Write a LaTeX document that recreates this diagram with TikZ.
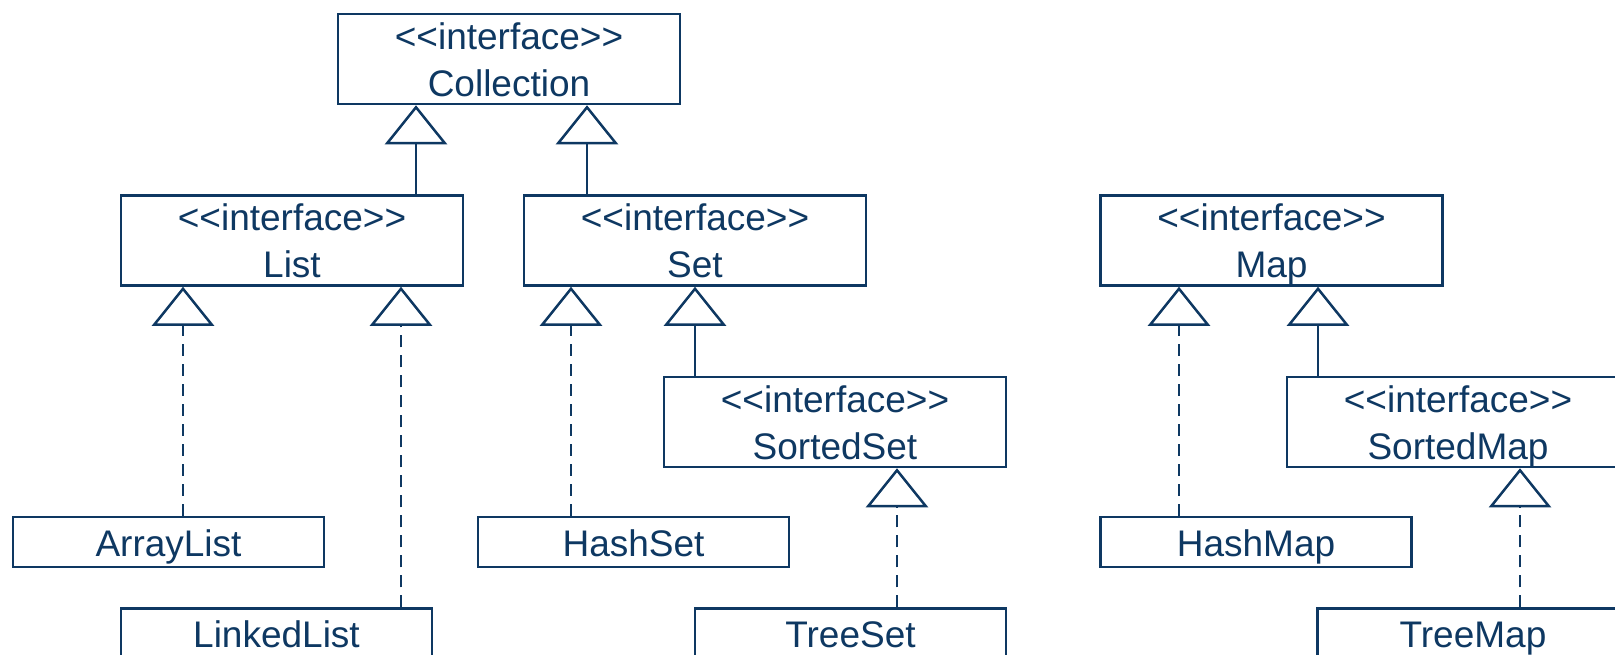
\documentclass[tikz,border=0pt]{standalone}
\usepackage{fontspec}
\setmainfont{Liberation Sans}[Ligatures=TeXOff]
\usetikzlibrary{positioning,arrows.meta}
\definecolor{umlblue}{RGB}{14,56,98}
\newcommand{\iface}[1]{\rule{0pt}{35pt}<<interface>>\\#1\rule[-8pt]{0pt}{8pt}}

\begin{document}
\begin{tikzpicture}[x=1pt, y=-1pt, line width=2.5pt, color=umlblue,
		font=\fontsize{37pt}{47pt}\selectfont,
		iface node/.style={rectangle,draw,fill=white,inner sep=0pt,align=center,minimum width=342pt,minimum height=90pt},
		class node/.style={rectangle,draw,fill=white,inner sep=0pt,minimum width=311pt,minimum height=50pt,text height=39pt,text depth=11pt},
		extends/.style={-{Triangle[open,length=39pt,width=62pt]}},
		realizes/.style={extends,dash pattern=on 12pt off 8pt}]
		
		\useasboundingbox (0,0) rectangle (1615,654);
		
		\node[iface node] (Collection) at (509,59) {\iface{Collection}};
		\node[iface node] (List) [below=89pt of Collection, xshift=-217pt] {\iface{List}};
		\node[iface node] (Set) [below=89pt of Collection, xshift=186pt] {\iface{Set}};
		\node[iface node] (Map) [right=232pt of Set] {\iface{Map}};
		\node[iface node] (SortedSet) [below=89pt of Set, xshift=140pt] {\iface{SortedSet}};
		\node[iface node] (SortedMap) [below=89pt of Map, xshift=186.5pt] {\iface{SortedMap}};
		\node[class node] (ArrayList) [below=229pt of List, xshift=-123.5pt] {ArrayList};
		\node[class node] (LinkedList) [below=39pt of ArrayList, xshift=108pt] {LinkedList};
		\node[class node] (HashSet) [below=229pt of Set, xshift=-61.5pt] {HashSet};
		\node[class node] (TreeSet) [below=139pt of SortedSet, xshift=15.5pt] {TreeSet};
		\node[class node] (HashMap) [below=229pt of Map, xshift=-15.5pt] {HashMap};
		\node[class node] (TreeMap) [below=139pt of SortedMap, xshift=15pt] {TreeMap};
		
		\coordinate (c1) at ([xshift=-93pt]Collection.south);
		\coordinate (c2) at ([xshift=78pt]Collection.south);
		\coordinate (l1) at ([xshift=-109pt]List.south);
		\coordinate (l2) at ([xshift=109pt]List.south);
		\coordinate (s1) at ([xshift=-124pt]Set.south);
		\coordinate (ss1) at ([xshift=62pt]SortedSet.south);
		\coordinate (m1) at ([xshift=-92.5pt]Map.south);
		\coordinate (m2) at ([xshift=46.5pt]Map.south);
		\coordinate (sm1) at ([xshift=62pt]SortedMap.south);
		
		\path
		(List.north -| c1) edge [extends] (c1)
		(Set.north -| c2) edge [extends] (c2)
		(ArrayList.north -| l1) edge [realizes] (l1)
		(LinkedList.north -| l2) edge [realizes] (l2)
		(HashSet.north -| s1) edge [realizes] (s1)
		(SortedSet.north -| Set.south) edge [extends] (Set.south)
		(TreeSet.north -| ss1) edge [realizes] (ss1)
		(HashMap.north -| m1) edge [realizes] (m1)
		(SortedMap.north -| m2) edge [extends] (m2)
		(TreeMap.north -| sm1) edge [realizes] (sm1);
\end{tikzpicture}
\end{document}
